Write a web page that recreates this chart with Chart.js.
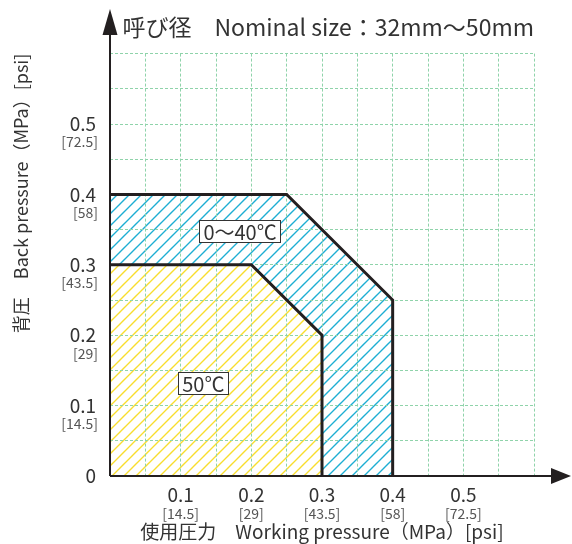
<!DOCTYPE html>
<html>
<head>
<meta charset="utf-8">
<script src="https://cdn.jsdelivr.net/npm/chart.js@4.4.1/dist/chart.umd.min.js"></script>
<style>
  html, body { margin: 0; padding: 0; background: #fff; }
  #wrap { width: 572px; height: 544px; }
</style>
</head>
<body>
<div id="wrap"><canvas id="chart"></canvas></div>
<script>
// datos
const coolX = [0, 0.25, 0.4, 0.4];     // 0~40C
const coolY = [0.4, 0.4, 0.25, 0];
const hotX = [0, 0.2, 0.3, 0.3];       // 50C
const hotY = [0.3, 0.3, 0.2, 0];

const mpaTicks = [0.1, 0.2, 0.3, 0.4, 0.5];
const mpaLabels = ['0.1', '0.2', '0.3', '0.4', '0.5'];
const psiLabels = ['[14.5]', '[29]', '[43.5]', '[58]', '[72.5]'];

const regionNames = ['0～40℃', '50℃'];
const regionLabelX = [0.184, 0.132];
const regionLabelY = [0.348, 0.132];

const FONT = "'Noto Sans CJK JP', 'Noto Sans', sans-serif";
const TXT = '#333';
const TXT2 = '#555';

function hatch(color) {
    const c = document.createElement('canvas');
    c.width = 12; c.height = 12;
    const g = c.getContext('2d');
    g.fillStyle = '#fff'; g.fillRect(0, 0, 12, 12);
    g.strokeStyle = color;
    g.lineWidth = 1.4;
    g.beginPath();
    g.moveTo(-2, 14); g.lineTo(14, -2);
    g.moveTo(-2, 2); g.lineTo(2, -2);
    g.moveTo(10, 14); g.lineTo(14, 10);
    g.stroke();
    return g.createPattern(c, 'repeat');
}

function pts(xs, ys) { return xs.map((v, i) => ({ x: v, y: ys[i] })); }

function tickIdx(v) {
    const k = Math.round(v * 100);
    if (k % 10 !== 0) return -1;
    return mpaTicks.findIndex(t => Math.round(t * 100) === k);
}

const gridOpts = {
    color: '#8fd3aa',
    lineWidth: 1,
    drawTicks: false
};

// flechas, etiquetas psi del eje Y y cajas de texto
const extras = {
    id: 'extras',
    afterDraw(chart) {
        const { ctx, scales } = chart;
        const x0 = scales.x.getPixelForValue(0);
        const y0 = scales.y.getPixelForValue(0);
        const W = chart.width;
        ctx.save();
        ctx.strokeStyle = '#231f20';
        ctx.fillStyle = '#231f20';
        ctx.lineWidth = 2;
        ctx.beginPath();
        ctx.moveTo(x0, y0); ctx.lineTo(x0, 30);
        ctx.moveTo(x0, y0); ctx.lineTo(W - 15, y0);
        ctx.stroke();
        ctx.beginPath();
        ctx.moveTo(x0, 9); ctx.lineTo(x0 - 7.5, 35); ctx.lineTo(x0 + 7.5, 35); ctx.closePath();
        ctx.fill();
        ctx.beginPath();
        ctx.moveTo(W - 1, y0); ctx.lineTo(W - 21, y0 - 8); ctx.lineTo(W - 21, y0 + 8); ctx.closePath();
        ctx.fill();

        // [psi] bajo cada valor MPa
        ctx.font = '14px ' + FONT;
        ctx.fillStyle = TXT2;
        ctx.textAlign = 'right';
        ctx.textBaseline = 'middle';
        mpaTicks.forEach((v, i) => {
            ctx.fillText(psiLabels[i], x0 - 12, scales.y.getPixelForValue(v) + 18);
        });

        ctx.font = '20px ' + FONT;
        ctx.textAlign = 'center';
        regionNames.forEach((name, i) => {
            const px = scales.x.getPixelForValue(regionLabelX[i]);
            const py = scales.y.getPixelForValue(regionLabelY[i]);
            const w = ctx.measureText(name).width + 8;
            const h = 22;
            ctx.fillStyle = '#fff';
            ctx.fillRect(px - w / 2, py - h / 2, w, h);
            ctx.lineWidth = 1;
            ctx.strokeStyle = '#333';
            ctx.strokeRect(Math.round(px - w / 2) + 0.5, Math.round(py - h / 2) + 0.5, Math.round(w), h);
            ctx.fillStyle = TXT;
            ctx.fillText(name, px, py + 1);
        });
        ctx.restore();
    }
};

new Chart(document.getElementById('chart'), {
    type: 'scatter',
    data: {
        datasets: [
            {
                label: regionNames[1],
                data: pts(hotX, hotY),
                showLine: true,
                fill: 'origin',
                backgroundColor: hatch('#f8dd2e'),
                borderColor: '#231f20',
                borderWidth: 3,
                pointRadius: 0,
                order: 0
            },
            {
                label: regionNames[0],
                data: pts(coolX, coolY),
                showLine: true,
                fill: 'origin',
                backgroundColor: hatch('#1eaed3'),
                borderColor: '#231f20',
                borderWidth: 3,
                pointRadius: 0,
                order: 1
            }
        ]
    },
    options: {
        responsive: true,
        maintainAspectRatio: false,
        animation: false,
        layout: { padding: { right: 38, top: 0, left: 0, bottom: 0 } },
        plugins: {
            legend: { display: false },
            tooltip: { enabled: false },
            filler: { drawTime: 'beforeDraw' },
            title: {
                display: true,
                text: '呼び径　Nominal size：32mm～50mm',
                align: 'end',
                color: TXT,
                font: { family: FONT, size: 23, weight: 'normal' },
                padding: { top: 13, bottom: 13 }
            }
        },
        scales: {
            x: {
                type: 'linear', min: 0, max: 0.6, position: 'bottom', weight: 0,
                grid: gridOpts,
                border: { display: false, dash: [3, 2] },
                ticks: {
                    stepSize: 0.05, padding: 7, color: TXT, maxRotation: 0, autoSkip: false,
                    font: { family: FONT, size: 19 },
                    callback: v => { const i = tickIdx(v); return i < 0 ? '' : mpaLabels[i]; }
                },
                afterFit: s => { s.height = 28; }
            },
            x2: {
                type: 'linear', min: 0, max: 0.6, position: 'bottom', weight: 1,
                grid: { display: false, drawTicks: false },
                border: { display: false },
                ticks: {
                    stepSize: 0.05, padding: 1, color: TXT2, maxRotation: 0, autoSkip: false,
                    font: { family: FONT, size: 14 },
                    callback: v => { const i = tickIdx(v); return i < 0 ? '' : psiLabels[i]; }
                },
                title: {
                    display: true,
                    text: '使用圧力　Working pressure（MPa）[psi]',
                    color: TXT,
                    font: { family: FONT, size: 19 },
                    padding: { top: 0, bottom: 1 }
                },
                afterFit: s => { s.height = 40; }
            },
            y: {
                type: 'linear', min: 0, max: 0.6, position: 'left',
                grid: gridOpts,
                border: { display: false, dash: [3, 2] },
                ticks: {
                    stepSize: 0.05, padding: 14, color: TXT, autoSkip: false,
                    font: { family: FONT, size: 19 },
                    callback: v => {
                        if (Math.round(v * 100) === 0) return '0';
                        const i = tickIdx(v); return i < 0 ? '' : mpaLabels[i];
                    }
                },
                title: {
                    display: true,
                    text: '背圧　Back pressure（MPa）[psi]',
                    align: 'end',
                    color: TXT,
                    font: { family: FONT, size: 18 },
                    padding: { top: 10, bottom: 0 }
                },
                afterFit: s => { s.width = 110; }
            }
        }
    },
    plugins: [extras]
});
</script>
</body>
</html>
